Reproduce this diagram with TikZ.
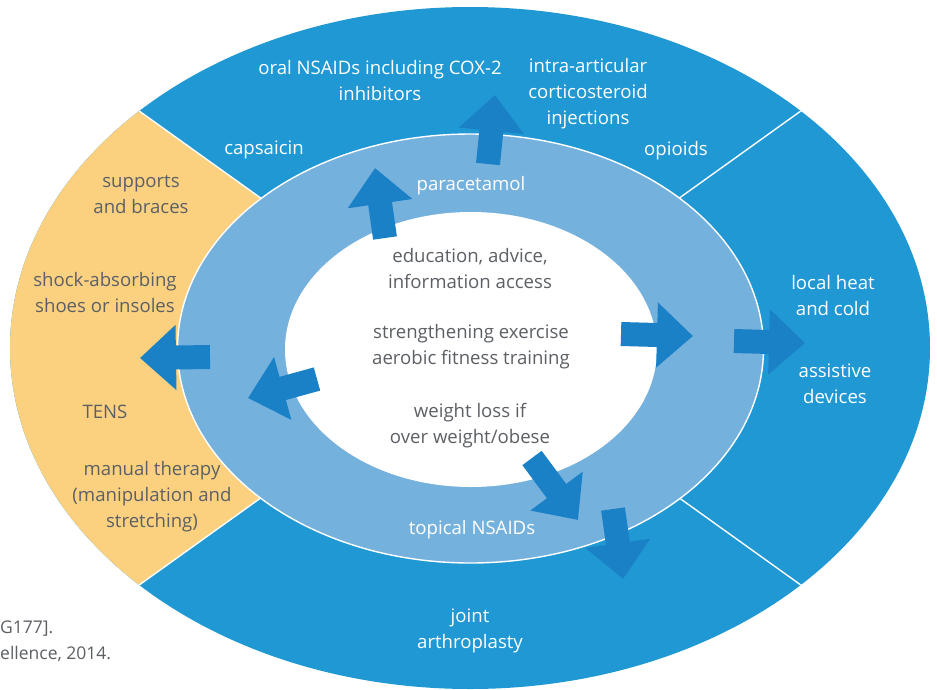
\documentclass[tikz,border=0pt]{standalone}
\usepackage{fontspec}
\setmainfont{Open Sans}
\usetikzlibrary{arrows.meta}
\definecolor{outerblue}{RGB}{31,152,211}
\definecolor{ringblue}{RGB}{117,177,221}
\definecolor{arrowblue}{RGB}{27,129,198}
\definecolor{sandy}{RGB}{251,209,128}
\definecolor{txtgray}{RGB}{92,96,101}
\tikzset{
  lbl/.style={align=center, font=\fontsize{18.6}{26}\selectfont, inner sep=0pt, yshift=-2.5pt},
  wlbl/.style={lbl, text=white},
  glbl/.style={lbl, text=txtgray},
  blockarrow/.style={draw=arrowblue, line width=24pt,
    -{Triangle[width=63pt,length=36pt]}},
  divider/.style={draw=white, line width=1.4pt},
  foot/.style={text=txtgray, font=\fontsize{17.5}{20}\selectfont, inner sep=0pt, anchor=west}
}
\begin{document}
\begin{tikzpicture}[x=1pt,y=-1pt]
\useasboundingbox (0,0) rectangle (937,689);
\coordinate (c) at (470,348);
% outer ellipse
\fill[outerblue] (c) ellipse [x radius=460pt, y radius=341pt];
\begin{scope}
  \clip (c) ellipse [x radius=460pt, y radius=341pt];
  \fill[sandy] (c) -- (-186,-122) -- (-186,818) -- cycle;
  \draw[divider] (c) -- (-186,-122);
  \draw[divider] (c) -- (-186,818);
  \draw[divider] (c) -- (1126,-122);
  \draw[divider] (c) -- (1126,818);
\end{scope}
% middle ring
\fill[ringblue, draw=white, line width=1.4pt] (470.5,348.5) ellipse [x radius=293pt, y radius=214.5pt];
% inner white
\fill[white] (471,349.5) ellipse [x radius=186pt, y radius=137.5pt];

% arrows
\coordinate (a1s) at (488,164); \coordinate (a1e) at (495,95);
\coordinate (a2s) at (385,238); \coordinate (a2e) at (375,168);
\coordinate (a3s) at (621,334); \coordinate (a3e) at (693,336);
\coordinate (a4s) at (734,341); \coordinate (a4e) at (805,343);
\coordinate (a5s) at (210,357); \coordinate (a5e) at (140,358);
\coordinate (a6s) at (317,379); \coordinate (a6e) at (248,398);
\coordinate (a7s) at (532,458); \coordinate (a7e) at (578,520);
\coordinate (a8s) at (613,509); \coordinate (a8e) at (623,579);
\foreach \i in {1,...,8} {\draw[blockarrow] (a\i s) -- (a\i e);}

% labels in outer blue
\node[wlbl] (oral) at (380,78) {oral NSAIDs including COX-2\\inhibitors};
\node[wlbl] (intra) at (588,91) {intra-articular\\corticosteroid\\injections};
\node[wlbl] (caps) at (264,147) {capsaicin};
\node[wlbl] (opio) at (676,148) {opioids};
\node[wlbl] (heat) at (833,293) {local heat\\and cold};
\node[wlbl] (assist) at (835,381) {assistive\\devices};
\node[wlbl] (joint) at (470,628) {joint\\arthroplasty};
% ring labels
\node[wlbl] (para) at (471,183) {paracetamol};
\node[wlbl] (topical) at (472,527) {topical NSAIDs};
% yellow labels
\node[glbl] (supp) at (141,192) {supports\\and braces};
\node[glbl] (shoe) at (105,290) {shock-absorbing\\shoes or insoles};
\node[glbl] (tens) at (105,409) {TENS};
\node[glbl] (manual) at (152,494) {manual therapy\\(manipulation and\\stretching)};
% core labels
\node[glbl] (edu) at (470,266) {education, advice,\\information access};
\node[glbl] (exer) at (471,344) {strengthening exercise\\aerobic fitness training};
\node[glbl] (weight) at (470,423) {weight loss if\\over weight/obese};
% footnote fragments
\node[foot] (f1) at (0,629) {G177].};
\node[foot] (f2) at (0,654) {ellence, 2014.};
\end{tikzpicture}
\end{document}
